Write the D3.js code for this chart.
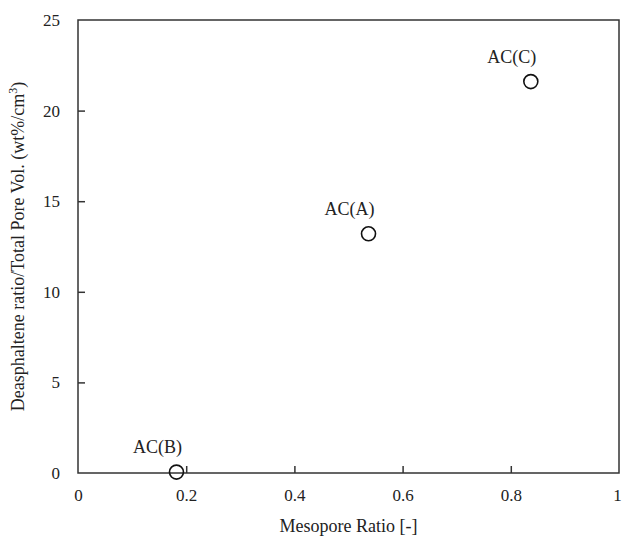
<!DOCTYPE html>
<head>
  <meta charset="utf-8">
  <style>
    body { margin: 0; background: #fff; }
    svg text { font-family: "Liberation Serif", "DejaVu Serif", serif; }
  </style>
</head>
<svg width="622" height="537"></svg>
<script src="https://d3js.org/d3.v7.min.js"></script>
<script>
  // data
  const samples = ["AC(B)", "AC(A)", "AC(C)"];
  const mesoporeRatio = [0.182, 0.537, 0.837];
  const deasphRatio = [0.05, 13.2, 21.6];
  const xTicks = [0, 0.2, 0.4, 0.6, 0.8, 1];
  const yTicks = [0, 5, 10, 15, 20, 25];

  const margin = { top: 20, right: 3, bottom: 64, left: 78 },
    width = 622 - margin.left - margin.right,
    height = 537 - margin.top - margin.bottom;

  const serif = "'Liberation Serif', 'DejaVu Serif', serif";

  const svg = d3.select("svg").attr("font-family", serif);
  const g = svg.append("g").attr("transform", "translate(" + margin.left + "," + margin.top + ")");

  const x = d3.scaleLinear().domain([0, 1]).range([0, width]);
  const y = d3.scaleLinear().domain([0, 25]).range([height, 0]);

  // frame
  g.append("rect")
    .attr("width", width).attr("height", height)
    .attr("fill", "none").attr("stroke", "#333").attr("stroke-width", 1.5);

  const xAxis = g.append("g")
    .attr("transform", "translate(0," + height + ")")
    .call(d3.axisBottom(x).tickValues(xTicks).tickSize(-7).tickPadding(16)
      .tickFormat(function(d) { return d === 1 ? "1" : d === 0 ? "0" : d3.format(".1f")(d); }));
  const yAxis = g.append("g")
    .call(d3.axisLeft(y).tickValues(yTicks).tickSize(-7).tickPadding(18));

  [xAxis, yAxis].forEach(function(a) {
    a.attr("font-family", serif).attr("font-size", 17);
    a.select(".domain").remove();
    a.selectAll("line").attr("stroke", "#333").attr("stroke-width", 1.5);
    a.selectAll("text").attr("fill", "#222");
  });
  // hide edge ticks that sit on the frame
  xAxis.selectAll(".tick").filter(function(d) { return d === 0 || d === 1; }).select("line").remove();
  yAxis.selectAll(".tick").filter(function(d) { return d === 0 || d === 25; }).select("line").remove();
  // last label sits right at the page edge
  xAxis.selectAll(".tick").filter(function(d) { return d === 1; }).select("text").attr("dx", -2);

  const pts = samples.map(function(s, i) {
    return { name: s, mx: mesoporeRatio[i], dy: deasphRatio[i] };
  });

  g.selectAll("circle.pt")
    .data(pts)
    .enter().append("circle")
    .attr("class", "pt")
    .attr("cx", function(d) { return x(d.mx); })
    .attr("cy", function(d) { return y(d.dy); })
    .attr("r", 7)
    .attr("fill", "none")
    .attr("stroke", "#111")
    .attr("stroke-width", 1.6);

  g.selectAll("text.lbl")
    .data(pts)
    .enter().append("text")
    .attr("class", "lbl")
    .attr("x", function(d) { return x(d.mx) - 19; })
    .attr("y", function(d) { return y(d.dy) - 19; })
    .attr("text-anchor", "middle")
    .attr("fill", "#222")
    .attr("font-size", 18)
    .text(function(d) { return d.name; });

  svg.append("text")
    .attr("x", margin.left + width / 2)
    .attr("y", 532)
    .attr("text-anchor", "middle")
    .attr("fill", "#222")
    .attr("font-size", 18)
    .text("Mesopore Ratio [-]");

  const yt = svg.append("text")
    .attr("transform", "translate(24," + (margin.top + height / 2) + ") rotate(-90)")
    .attr("text-anchor", "middle")
    .attr("fill", "#222")
    .attr("font-size", 18);
  yt.append("tspan").text("Deasphaltene ratio/Total Pore Vol. (wt%/cm");
  yt.append("tspan").attr("dy", -7).attr("font-size", 12).text("3");
  yt.append("tspan").attr("dy", 7).text(")");
</script>
